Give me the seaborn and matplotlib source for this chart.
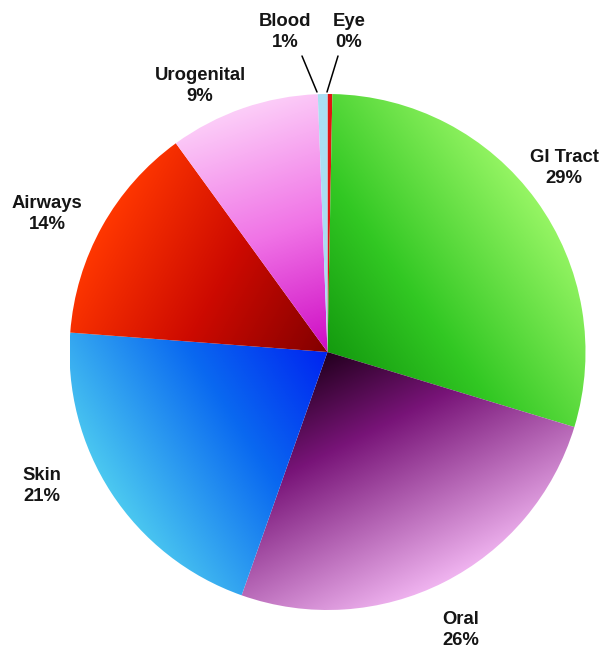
import numpy as np
import matplotlib
matplotlib.use("Agg")
import matplotlib.pyplot as plt
import seaborn as sns

# Share of samples by body site (percent), clockwise from 12 o'clock
sites = ["Eye", "GI Tract", "Oral", "Skin", "Airways", "Urogenital", "Blood"]
shares = [0.3, 29.4, 25.7, 20.8, 13.8, 9.4, 0.6]

# Gradient stops per slice: (position along slice axis, RGB 0-255)
gradients = {
    "Eye":        [(0.0, (225, 20, 20)), (1.0, (225, 20, 20))],
    "GI Tract":   [(0.0, (20, 155, 15)), (0.4, (50, 200, 35)), (1.0, (150, 245, 100))],
    "Oral":       [(0.0, (35, 0, 30)), (0.35, (120, 20, 120)), (1.0, (240, 180, 240))],
    "Skin":       [(0.0, (0, 35, 240)), (0.45, (10, 105, 240)), (1.0, (75, 200, 240))],
    "Airways":    [(0.0, (130, 0, 0)), (0.5, (205, 10, 0)), (1.0, (255, 55, 0))],
    "Urogenital": [(0.0, (205, 10, 195)), (0.5, (240, 115, 230)), (1.0, (252, 205, 248))],
    "Blood":      [(0.0, (170, 222, 242)), (1.0, (170, 222, 242))],
}

# Label anchor points in figure pixels (x, y from top)
label_pos = {
    "Eye": (349, 32), "GI Tract": (564, 168), "Oral": (461, 630),
    "Skin": (42, 486), "Airways": (47, 214), "Urogenital": (200, 86),
    "Blood": (285, 32),
}

W, H = 602, 653
sns.set_theme(style="white")
plt.rcParams["font.family"] = ["Liberation Sans", "DejaVu Sans"]

fig = plt.figure(figsize=(W / 100, H / 100), dpi=100)
ax = fig.add_axes([0, 0, 1, 1])

cx, cy, R = 327.5, H - 352, 258

wedges, _ = ax.pie(shares, startangle=90, counterclock=False,
                   center=(cx, cy), radius=R, frame=True,
                   wedgeprops=dict(linewidth=0, edgecolor="none"))
ax.set_aspect("equal")
ax.axis("off")

# Fill each wedge with a linear gradient running outward along its bisector
xs = np.linspace(cx - R, cx + R, 600)
ys = np.linspace(cy - R, cy + R, 600)
XX, YY = np.meshgrid(xs, ys)
for w, name in zip(wedges, sites):
    mid = np.deg2rad((w.theta1 + w.theta2) / 2)
    ux, uy = np.cos(mid), np.sin(mid)
    t = np.clip(((XX - cx) * ux + (YY - cy) * uy) / R, 0, 1)
    stops = gradients[name]
    pos = [s[0] for s in stops]
    img = np.zeros(t.shape + (3,))
    for c in range(3):
        img[..., c] = np.interp(t, pos, [s[1][c] / 255 for s in stops])
    w.set_facecolor("none")
    im = ax.imshow(img, extent=(cx - R, cx + R, cy - R, cy + R), origin="lower",
                   interpolation="bilinear", zorder=1)
    im.set_clip_path(w)

ax.set_xlim(0, W)
ax.set_ylim(0, H)

# Category labels with percentages
for name, val in zip(sites, shares):
    x, y = label_pos[name]
    ax.text(x, H - y, f"{name}\n{round(val)}%", ha="center", va="center",
            fontsize=13.3, fontweight="bold", color="#151515", linespacing=1.32,
            zorder=3)

# Leader lines for the two thin slices
ax.plot([302, 317], [H - 56, H - 92], color="black", lw=1.1, zorder=3)
ax.plot([338, 327], [H - 56, H - 92], color="black", lw=1.1, zorder=3)

fig.savefig("out.png", dpi=100, facecolor="white")
